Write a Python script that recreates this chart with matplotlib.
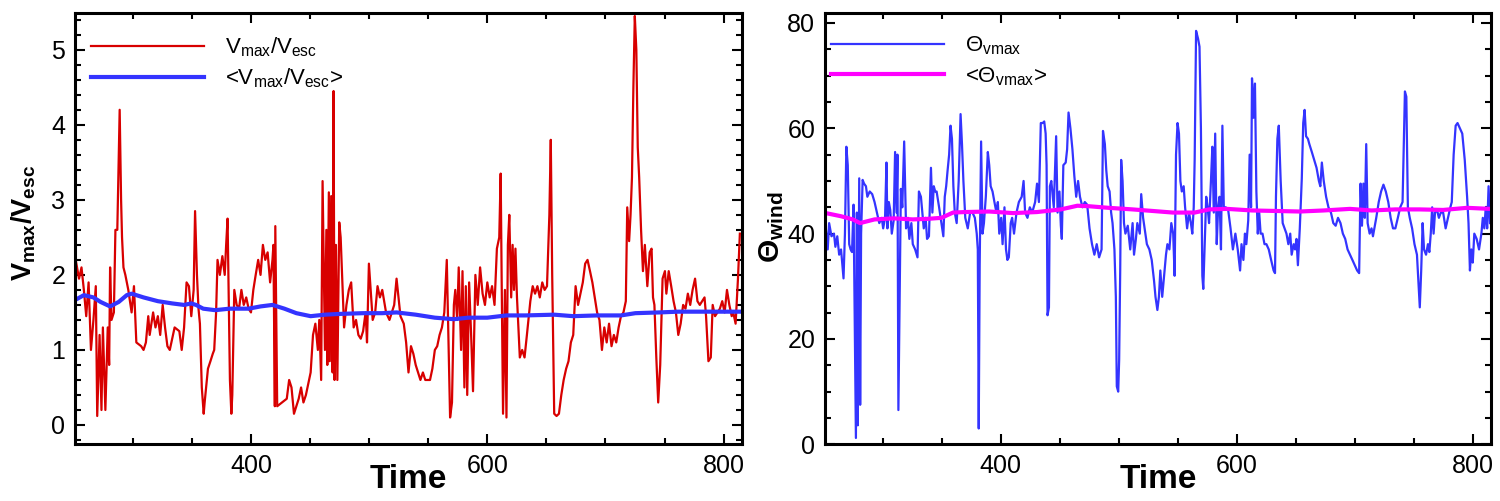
import matplotlib
matplotlib.use("Agg")
import matplotlib.pyplot as plt
from matplotlib.ticker import MultipleLocator

plt.rcParams['font.family'] = ['Liberation Sans', 'DejaVu Sans']
plt.rcParams['mathtext.fontset'] = 'custom'
plt.rcParams['mathtext.rm'] = 'Liberation Sans'
plt.rcParams['mathtext.bf'] = 'Liberation Sans:bold'
plt.rcParams['mathtext.it'] = 'Liberation Sans:italic'

# ---------------- data: left panel (v_max / v_esc) ----------------
t_ratio = [251.7, 254.5, 256.6, 258.6, 260.6, 262.6, 264.6, 266.7, 268.7, 269.9, 271.9, 273.5, 274.7, 276.8,
           278.8, 280.0, 280.8, 282.0, 284.0, 285.3, 286.9, 288.9, 290.1, 290.9, 292.1, 293.7, 296.2, 299.0,
           301.0, 303.0, 307.1, 309.1, 311.1, 313.1, 314.3, 317.2, 319.2, 321.2, 323.2, 325.3, 327.3, 329.3,
           331.3, 335.4, 339.4, 341.4, 343.4, 345.5, 347.5, 349.5, 351.5, 352.7, 354.3, 355.6, 356.8, 358.4,
           360.0, 360.8, 363.6, 365.7, 367.7, 368.9, 370.5, 371.7, 373.7, 375.8, 377.8, 379.0, 380.2, 381.0,
           382.2, 383.4, 384.2, 385.9, 387.9, 389.9, 391.9, 393.9, 396.0, 398.0, 400.0, 402.0, 404.0, 406.1,
           408.1, 410.1, 412.1, 414.1, 416.2, 418.2, 419.0, 420.2, 420.6, 422.2, 426.3, 430.3, 432.3, 434.3,
           436.4, 438.4, 440.4, 442.4, 444.4, 446.5, 448.5, 450.5, 452.5, 454.5, 456.6, 457.8, 459.4, 460.6,
           462.6, 463.8, 464.6, 465.9, 466.7, 467.9, 469.1, 469.9, 470.7, 471.9, 473.1, 474.7, 475.9, 478.8,
           480.8, 482.8, 484.8, 486.9, 488.9, 490.9, 492.9, 494.9, 497.0, 498.2, 499.8, 503.0, 505.1, 507.1,
           509.1, 511.1, 514.3, 517.2, 521.2, 523.2, 526.5, 529.3, 531.3, 533.3, 535.4, 537.4, 539.4, 541.4,
           543.4, 545.5, 547.5, 549.5, 551.5, 553.5, 555.6, 557.6, 559.6, 561.6, 563.6, 565.7, 566.9, 568.5,
           570.1, 571.7, 572.9, 574.5, 575.8, 577.8, 579.0, 580.6, 581.8, 583.0, 584.6, 586.3, 587.9, 589.9,
           591.9, 593.9, 596.0, 598.0, 600.0, 602.0, 604.0, 606.1, 608.1, 610.1, 611.3, 612.1, 613.3, 614.9,
           616.2, 617.4, 618.6, 620.2, 621.4, 622.6, 623.8, 625.1, 627.5, 629.5, 631.5, 633.5, 636.4, 638.4,
           640.4, 642.4, 644.4, 646.5, 648.5, 650.5, 652.5, 653.7, 654.9, 656.6, 658.6, 660.6, 662.6, 664.6,
           666.7, 668.7, 670.7, 672.7, 674.7, 676.8, 678.8, 680.8, 682.8, 684.8, 686.9, 688.9, 690.9, 692.9,
           694.9, 697.0, 699.0, 701.0, 703.0, 705.1, 707.1, 709.1, 711.1, 713.1, 715.2, 717.2, 718.4, 720.0,
           721.2, 722.4, 723.6, 724.8, 726.1, 727.3, 728.5, 730.1, 731.7, 733.3, 735.4, 737.4, 739.0, 740.2,
           741.4, 743.0, 744.6, 746.3, 748.3, 750.3, 751.5, 753.5, 755.6, 757.6, 759.6, 761.6, 763.6, 765.7,
           767.7, 769.7, 771.7, 773.7, 775.8, 777.8, 779.8, 781.8, 783.8, 785.1, 787.1, 789.1, 790.7, 792.7,
           794.7, 796.8, 798.8, 800.8, 802.8, 804.8, 806.8, 808.1, 810.1, 812.1, 813.7]
v_ratio = [2.2, 1.95, 2.1, 1.8, 1.45, 1.9, 1.0, 1.4, 1.85, 0.12, 1.2, 0.2, 1.3, 0.2,
           1.3, 0.8, 2.1, 1.4, 1.5, 2.6, 2.6, 4.2, 3.0, 2.5, 2.1, 2.0, 1.8, 1.5,
           1.85, 1.1, 1.05, 1.0, 1.1, 1.45, 1.2, 1.5, 1.3, 1.45, 1.2, 1.6, 1.3, 1.05,
           1.0, 1.3, 1.25, 1.0, 1.3, 1.9, 1.85, 1.45, 1.8, 2.85, 2.0, 1.55, 1.35, 0.5,
           0.15, 0.3, 0.75, 0.85, 0.95, 1.0, 1.5, 2.2, 2.0, 2.25, 2.0, 2.4, 2.75, 1.9,
           0.6, 0.15, 0.4, 1.8, 1.6, 1.55, 1.8, 1.6, 1.7, 1.55, 1.5, 1.8, 2.0, 2.2,
           2.0, 2.4, 2.2, 2.3, 1.9, 2.2, 2.4, 0.25, 2.65, 0.25, 0.3, 0.35, 0.6, 0.5,
           0.15, 0.25, 0.35, 0.5, 0.3, 0.4, 0.55, 0.7, 1.2, 1.35, 1.0, 1.4, 0.6, 3.25,
           1.0, 2.6, 0.8, 3.1, 0.85, 3.05, 0.7, 4.45, 0.6, 2.4, 0.6, 2.7, 2.5, 1.3,
           1.6, 1.8, 1.9, 1.3, 1.4, 1.2, 1.15, 1.25, 1.5, 1.1, 2.15, 1.4, 1.5, 1.85,
           1.7, 1.8, 1.5, 1.4, 1.6, 1.95, 1.45, 1.35, 1.1, 0.7, 1.05, 0.95, 0.8, 0.7,
           0.6, 0.7, 0.6, 0.6, 0.6, 0.75, 1.0, 1.05, 1.2, 1.3, 1.5, 2.2, 1.3, 0.1,
           0.3, 1.6, 1.8, 1.4, 2.1, 1.0, 2.05, 0.5, 1.85, 0.4, 1.9, 1.2, 0.45, 2.0,
           1.6, 2.1, 1.75, 1.6, 1.9, 1.7, 1.85, 1.6, 2.35, 2.5, 3.35, 2.0, 0.15, 1.8,
           0.1, 2.4, 2.8, 1.7, 2.4, 1.8, 2.35, 1.7, 0.9, 1.0, 0.9, 1.2, 1.65, 1.85,
           1.75, 1.85, 1.7, 1.9, 1.8, 1.85, 2.8, 3.8, 2.0, 0.15, 0.12, 0.15, 0.4, 0.6,
           0.75, 0.85, 1.1, 1.2, 1.85, 1.6, 1.75, 1.9, 2.15, 2.2, 2.05, 1.9, 1.7, 1.5,
           1.4, 1.0, 1.3, 1.1, 1.35, 1.05, 1.2, 1.1, 1.3, 1.45, 1.5, 1.65, 2.9, 2.45,
           2.8, 3.3, 4.5, 5.45, 5.0, 3.7, 3.3, 2.6, 2.05, 2.4, 1.85, 2.3, 2.35, 1.7,
           1.6, 0.9, 0.3, 0.8, 1.95, 2.05, 1.75, 2.05, 1.85, 1.65, 1.5, 1.2, 1.35, 1.6,
           1.55, 1.75, 1.6, 1.8, 1.95, 1.65, 1.6, 1.65, 1.7, 1.45, 0.85, 0.9, 1.6, 1.45,
           1.5, 1.55, 1.65, 1.5, 1.8, 1.6, 1.45, 1.5, 1.35, 1.95, 2.55]

t_ratio_avg = [251.7, 258.6, 266.7, 272.7, 280.8, 288.1, 294.9, 299.0, 309.1, 321.2, 333.3, 343.4, 349.5,
               353.5, 359.6, 369.7, 381.8, 398.0, 408.1, 418.2, 428.3, 438.4, 450.5, 462.6, 474.7, 494.9,
               511.1, 523.2, 539.4, 555.6, 571.7, 583.8, 600.0, 616.2, 632.3, 656.6, 672.7, 692.9, 713.1,
               725.3, 745.5, 761.6, 785.9, 813.7]
v_ratio_avg = [1.67, 1.73, 1.70, 1.64, 1.58, 1.64, 1.73, 1.75, 1.70, 1.65, 1.62, 1.60, 1.62,
               1.60, 1.55, 1.53, 1.55, 1.55, 1.58, 1.60, 1.55, 1.49, 1.45, 1.47, 1.48, 1.49,
               1.49, 1.50, 1.47, 1.43, 1.41, 1.43, 1.43, 1.46, 1.46, 1.47, 1.45, 1.46, 1.46,
               1.49, 1.50, 1.51, 1.51, 1.51]

# ---------------- data: right panel (Theta_wind) ----------------
t_theta = [251.8, 253.4, 254.6, 256.6, 258.7, 259.9, 261.5, 263.1, 264.7, 266.8, 268.0, 269.2, 270.4, 271.6,
           272.8, 274.0, 275.3, 276.5, 277.3, 278.1, 278.9, 280.1, 280.9, 281.7, 283.0, 284.2, 285.8, 287.0,
           289.0, 291.1, 293.1, 295.1, 297.1, 299.2, 300.4, 302.0, 303.2, 304.0, 305.2, 306.4, 307.7, 309.3,
           310.5, 311.7, 312.5, 313.3, 314.1, 315.4, 316.6, 318.2, 319.8, 321.4, 322.6, 324.3, 325.5, 327.5,
           329.5, 330.7, 332.4, 333.6, 334.8, 336.4, 337.6, 339.2, 340.9, 342.1, 343.3, 344.5, 345.7, 347.8,
           349.8, 351.4, 352.6, 353.8, 355.0, 356.3, 357.5, 358.7, 359.9, 361.1, 362.7, 364.4, 366.0, 367.2,
           368.4, 370.0, 372.1, 374.1, 376.1, 378.1, 379.7, 380.6, 381.4, 382.2, 383.4, 384.6, 385.8, 387.4,
           389.1, 390.3, 391.5, 393.1, 394.7, 396.4, 397.6, 398.8, 400.4, 401.6, 403.2, 404.5, 405.7, 406.9,
           408.5, 409.7, 411.3, 413.4, 415.4, 417.8, 419.4, 420.7, 422.7, 424.7, 426.7, 429.2, 430.8, 432.4,
           434.0, 435.6, 436.9, 438.1, 438.9, 439.7, 440.9, 441.7, 442.9, 445.0, 447.0, 448.2, 449.8, 451.0,
           451.8, 453.1, 455.1, 456.3, 457.5, 459.1, 460.8, 462.4, 464.0, 465.6, 467.2, 469.3, 471.3, 473.3,
           475.3, 477.4, 479.4, 481.4, 483.4, 485.5, 486.7, 488.3, 489.5, 490.7, 492.3, 493.6, 494.8, 496.4,
           497.6, 498.4, 499.6, 500.4, 501.3, 502.1, 503.3, 504.5, 505.7, 507.7, 509.8, 511.8, 513.0, 514.6,
           515.8, 517.9, 519.1, 520.7, 522.3, 523.9, 526.0, 528.0, 530.0, 531.2, 532.8, 534.1, 535.3, 536.9,
           538.5, 540.1, 541.3, 543.0, 544.6, 546.2, 547.4, 548.6, 549.9, 551.1, 552.3, 553.5, 555.1, 556.3,
           558.0, 559.6, 561.2, 562.4, 563.6, 564.4, 565.6, 567.3, 568.5, 569.7, 570.9, 571.7, 572.9, 574.2,
           575.4, 576.6, 578.2, 579.4, 580.6, 581.8, 583.1, 584.3, 585.5, 586.7, 587.9, 589.1, 590.8, 592.8,
           594.8, 596.8, 598.9, 600.9, 602.9, 604.1, 605.7, 607.0, 608.2, 609.8, 611.0, 612.2, 613.0, 614.2,
           615.5, 616.7, 617.9, 619.1, 620.3, 621.9, 623.6, 625.2, 627.2, 629.2, 631.3, 632.5, 633.3, 634.5,
           635.7, 637.3, 639.0, 640.6, 642.2, 643.8, 645.4, 646.6, 648.3, 649.5, 650.7, 651.9, 653.5, 655.2,
           656.4, 657.6, 658.8, 660.4, 661.6, 663.7, 665.7, 667.7, 669.7, 670.9, 672.2, 673.8, 675.8, 677.8,
           679.9, 681.9, 683.9, 685.9, 688.0, 690.0, 692.0, 694.0, 696.1, 698.1, 700.1, 702.1, 703.8, 705.0,
           706.2, 707.4, 708.6, 709.8, 711.0, 712.7, 714.3, 715.5, 716.7, 718.3, 720.4, 722.4, 724.4, 726.4,
           728.5, 730.5, 732.5, 734.5, 736.6, 738.6, 740.6, 742.6, 743.8, 745.1, 746.7, 748.7, 750.7, 752.8,
           754.0, 755.2, 756.4, 757.6, 758.8, 760.5, 762.1, 763.3, 764.5, 765.7, 766.9, 768.1, 769.8, 771.4,
           773.0, 775.0, 777.1, 779.1, 781.1, 782.3, 783.9, 785.6, 787.2, 789.2, 791.2, 793.3, 795.3, 796.5,
           797.7, 798.9, 800.1, 801.4, 803.4, 805.4, 807.4, 808.6, 809.9, 811.1, 812.3, 813.5, 814.7]
v_theta = [41, 37, 42, 39.5, 40, 37.5, 39.5, 36, 37, 31.5, 40, 56.5, 53, 38,
           37, 36.5, 45.5, 18, 1.2, 44, 3.6, 50.5, 7.5, 40, 50.2, 49.5, 49, 47,
           48, 47.5, 46, 44, 42, 43, 41, 43, 53.5, 41, 46, 44.5, 40, 42.5,
           55.5, 44, 55, 6.5, 22, 48.5, 45, 57.5, 41, 43, 39, 42, 38, 37,
           35.5, 48, 47, 44, 41, 43, 39, 39.5, 52.5, 44, 49, 48, 48, 45,
           42, 39.5, 47, 49, 52, 55, 60.5, 58, 49, 44, 42, 50, 62.7, 57,
           50, 43, 41, 44, 44, 43, 40, 37, 3, 34, 57.5, 40, 42, 47,
           55.5, 53, 49, 48, 46, 44, 46, 40, 43, 38, 45, 37, 35, 35.5,
           42, 43, 40, 44, 46, 47, 50, 44, 43, 45, 44, 46, 49.5, 46,
           61, 61, 61.3, 59, 53, 24.5, 26, 49, 50, 45, 58.5, 44, 48, 41.5,
           39, 53, 53.5, 56, 63, 60, 56, 51, 47, 50, 47, 45, 46, 45.5,
           41, 38, 36, 38, 35.5, 37, 59.5, 57, 52, 49, 48, 44, 42, 37,
           28, 11, 10, 16, 33, 54, 50, 42, 40, 41.5, 37, 42, 36, 39,
           42, 40, 47.5, 43, 40.5, 38, 37, 35, 31, 28, 25.5, 28, 33, 28,
           32, 36, 38, 37, 42, 40, 32, 55, 61, 59, 50, 48, 49, 45,
           41, 44, 42, 40, 45, 54, 78.5, 77, 75.5, 60, 32, 29.5, 38, 47,
           45, 42, 50, 56.5, 44, 59, 38, 45, 47, 37, 60.5, 45, 45, 44.5,
           41, 37, 40, 37, 33, 38, 35, 40, 38, 42.5, 55, 45, 69.5, 62,
           68.5, 48, 40, 44, 40, 40, 38, 38, 37, 35, 33, 32.5, 47, 58,
           60.5, 50, 42, 41, 40, 38, 40, 36, 38, 37, 39, 34, 41, 50.5,
           61, 63.5, 58.5, 58, 57, 55.5, 54, 52.5, 50, 49, 53.5, 50, 47, 45,
           44, 42, 41.5, 43, 42, 40, 39, 37, 36, 35, 34, 33, 32.5, 49.5,
           41.5, 49.5, 43, 57, 42, 40, 41, 39.5, 41, 43, 46, 48, 49.3, 48,
           46, 43, 41, 41, 43, 45, 46, 67, 66, 45, 43, 41, 38, 36,
           31, 26, 33, 42, 37, 36, 38, 36.5, 40, 45, 40, 44, 44.5, 43,
           44, 44, 41, 43, 45, 46, 55, 60.5, 61, 60, 59, 54, 47, 42,
           33, 37, 34.5, 40, 39, 37, 40, 43, 41, 45, 41, 49, 42]

t_theta_avg = [251.8, 264.7, 274.7, 280.8, 293.1, 309.3, 325.5, 337.6, 349.8, 359.6, 370.0, 390.3, 410.5,
               430.8, 451.0, 465.0, 475.0, 491.5, 511.8, 529.0, 546.0, 564.4, 576.6, 591.8, 613.0, 634.0,
               653.5, 673.8, 696.0, 714.3, 734.5, 754.8, 775.0, 795.3, 815.0]
v_theta_avg = [43.9, 43.3, 42.7, 42.0, 42.7, 42.9, 42.7, 42.8, 43.0, 44.0, 44.1, 44.2, 43.9,
               44.1, 44.6, 45.3, 45.2, 44.9, 44.6, 44.3, 44.0, 44.0, 44.6, 44.7, 44.4, 44.3,
               44.2, 44.4, 44.7, 44.4, 44.6, 44.6, 44.5, 44.9, 44.7]

x_range = (251.1, 815.3)

RED = '#d80000'
BLUE = '#3434ff'
MAGENTA = '#ff00ff'

fig = plt.figure(figsize=(15, 5.01), dpi=100)
ax1 = fig.add_axes([0.05, 0.1132, 0.4445, 0.8609])
ax2 = fig.add_axes([0.55, 0.1132, 0.4438, 0.8609])


def style(ax, ymajor, yminor):
    ax.xaxis.set_major_locator(MultipleLocator(200))
    ax.xaxis.set_minor_locator(MultipleLocator(50))
    ax.yaxis.set_major_locator(MultipleLocator(ymajor))
    ax.yaxis.set_minor_locator(MultipleLocator(yminor))
    ax.tick_params(which='both', direction='in', top=True, right=True, width=1.5,
                   labelsize=18, pad=7)
    ax.tick_params(which='major', length=7.5)
    ax.tick_params(which='minor', length=4.5)
    for s in ax.spines.values():
        s.set_linewidth(2.2)
    ax.set_xlabel('Time', fontsize=24, fontweight='bold')
    ax.xaxis.set_label_coords(0.5, -0.102)
    ax.xaxis.label.set_verticalalignment('baseline')


def place_ylabel(ax, x, y):
    ax.yaxis.set_label_coords(x, y)
    ax.yaxis.label.set_verticalalignment('center')
    ax.yaxis.label.set_rotation_mode('default')


leg_kw = dict(loc='upper left', frameon=False, fontsize=16, handlelength=5.1, handletextpad=0.95,
              labelspacing=0.35, borderaxespad=0, borderpad=0)

# left
ax1.plot(t_ratio, v_ratio, color=RED, lw=1.6, label=r'$\mathrm{V_{max}/V_{esc}}$')
ax1.plot(t_ratio_avg, v_ratio_avg, color=BLUE, lw=3.0, label='<' + r'$\mathrm{V_{max}/V_{esc}}$' + '>')
ax1.set_xlim(*x_range)
ax1.set_ylim(-0.257, 5.49)
style(ax1, 1, 0.2)
ax1.set_ylabel(r'$\mathbf{V_{max}/V_{esc}}$', fontsize=19.5)
place_ylabel(ax1, -0.0765, 0.513)
ax1.legend(bbox_to_anchor=(0.024, 0.948), **leg_kw)

# right
ax2.plot(t_theta, v_theta, color=BLUE, lw=1.6, label=r'$\mathrm{Θ_{vmax}}$')
ax2.plot(t_theta_avg, v_theta_avg, color=MAGENTA, lw=3.0, label='<' + r'$\mathrm{Θ_{vmax}}$' + '>')
ax2.set_xlim(*x_range)
ax2.set_ylim(0, 81.9)
style(ax2, 20, 5)
ax2.set_ylabel(r'$\mathbf{Θ_{wind}}$', fontsize=21.5)
place_ylabel(ax2, -0.0796, 0.503)
ax2.legend(bbox_to_anchor=(0.009, 0.95), **leg_kw)

fig.savefig('out.png', dpi=100)
